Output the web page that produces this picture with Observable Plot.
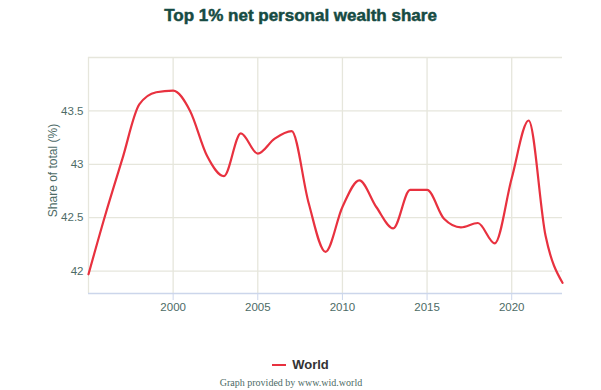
<!DOCTYPE html>
<html>
<head>
<meta charset="utf-8">
<script src="https://cdn.jsdelivr.net/npm/d3@7"></script>
<script src="https://cdn.jsdelivr.net/npm/@observablehq/plot@0.6"></script>
<style>
  body { margin: 0; background: #fff; }
  #wrap { position: relative; width: 601px; height: 390px; overflow: hidden; font-family: "Liberation Sans", Arial, sans-serif; }
  #title { position: absolute; top: 6px; left: 0; width: 601px; text-align: center; font-size: 17px; font-weight: bold; color: #164b43; -webkit-text-stroke: 0.5px #164b43; }
  #legend { position: absolute; top: 357px; left: 0; width: 601px; text-align: center; font-size: 13px; font-weight: bold; color: #333; }
  #legend .sym { display: inline-block; width: 14px; height: 2px; background: #e8313f; vertical-align: middle; margin-right: 6px; position: relative; top: -1px; }
  #caption { position: absolute; top: 377px; left: 0; width: 582px; text-align: center; font-family: "Liberation Serif", "DejaVu Serif", serif; font-size: 10px; color: #4d6b66; }
  #chart { position: absolute; top: 0; left: 0; }
</style>
</head>
<body>
<div id="wrap">
  <div id="chart"></div>
  <div id="title">Top 1% net personal wealth share</div>
  <div id="legend"><span class="sym"></span>World</div>
  <div id="caption">Graph provided by www.wid.world</div>
</div>
<script>
const years = [1995,1996,1997,1998,1999,2000,2001,2002,2003,2004,2005,2006,2007,2008,2009,2010,2011,2012,2013,2014,2015,2016,2017,2018,2019,2020,2021,2022,2023];
const world = [41.97,42.53,43.05,43.56,43.675,43.69,43.50,43.08,42.89,43.29,43.10,43.24,43.31,42.64,42.18,42.60,42.85,42.60,42.40,42.76,42.76,42.49,42.41,42.45,42.26,42.87,43.41,42.33,41.89];
const xTicks = [2000,2005,2010,2015,2020];
const xGrid = [1995,2000,2005,2010,2015,2020];
const yTicks = [42,42.5,43,43.5];
const yGrid = [42,42.5,43,43.5,44];
const seriesName = "World";

const data = years.map((y, i) => ({year: y, value: world[i], series: seriesName}));

const chart = Plot.plot({
  width: 601,
  height: 390,
  marginTop: 57,
  marginLeft: 88,
  marginRight: 39,
  marginBottom: 97,
  style: {fontFamily: "Liberation Sans, Arial, sans-serif", fontSize: "11px", color: "#4d6b66", background: "transparent"},
  x: {domain: [1995, 2023], label: null},
  y: {domain: [41.79, 44.0], label: null},
  marks: [
    Plot.ruleX(xGrid, {stroke: "#e6e6dc", strokeWidth: 1.3}),
    Plot.ruleY(yGrid, {stroke: "#e6e6dc", strokeWidth: 1.3}),
    Plot.ruleY([41.79], {stroke: "#ccd6eb", strokeWidth: 1.3}),
    Plot.axisX({ticks: xTicks, tickFormat: d => String(d), tickSize: 7, stroke: "#ccd6eb", tickPadding: 2, fill: "#4d6b66", fontSize: 11.5, label: null}),
    Plot.axisY({ticks: yTicks, tickFormat: d => String(d), tickSize: 0, tickPadding: 5, fill: "#4d6b66", fontSize: 11.5, label: null}),
    Plot.text(["Share of total (%)"], {frameAnchor: "left", dx: -35, dy: -5, rotate: -90, textAnchor: "middle", fill: "#4d6b66", fontSize: 12}),
    Plot.line(data, {x: "year", y: "value", stroke: "#e8313f", strokeWidth: 2.2, curve: "monotone-x"})
  ]
});
document.getElementById("chart").appendChild(chart);
</script>
</body>
</html>
